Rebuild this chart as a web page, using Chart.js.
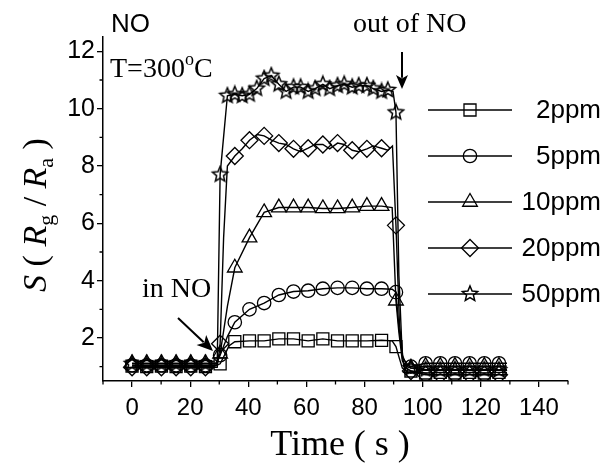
<!DOCTYPE html>
<html>
<head>
<meta charset="utf-8">
<script src="https://cdn.jsdelivr.net/npm/chart.js@4.4.1/dist/chart.umd.min.js"></script>
<style>
  html, body { margin: 0; padding: 0; background: #fff; }
  #chart { display: block; }
</style>
</head>
<body>
<canvas id="chart" width="605" height="466"></canvas>
<script>
// sampling times of the plotted symbols (s)
const markTime = [0, 5.05, 10.1, 15.15, 20.2, 25.25, 30.3, 35.35, 40.4, 45.45, 50.5, 55.55, 60.6,
  65.65, 70.7, 75.75, 80.8, 85.85, 90.8, 95.95, 101, 106.05, 111.1, 116.15, 121.2, 126.25];

// sensitivity at the symbol times
const s2 = [1.02, 1.0, 1.02, 1.0, 1.02, 1.0, 1.1, 1.87, 1.9, 1.9, 1.97, 1.97, 1.9, 1.97, 1.9, 1.9,
  1.9, 1.92, 1.7, 0.85, 0.78, 0.8, 0.78, 0.8, 0.78, 0.8];
const s5 = [1.05, 1.05, 1.05, 1.05, 1.05, 1.05, 1.4, 2.55, 3.0, 3.22, 3.5, 3.62, 3.65, 3.72, 3.75,
  3.75, 3.72, 3.72, 3.6, 1.0, 1.12, 1.12, 1.12, 1.12, 1.12, 1.12];
const s10 = [1.12, 1.12, 1.12, 1.12, 1.12, 1.12, 1.45, 4.45, 5.5, 6.38, 6.55, 6.55, 6.55, 6.52, 6.52,
  6.55, 6.6, 6.6, 3.3, 0.95, 1.02, 1.02, 1.02, 1.02, 1.02, 1.02];
const s20 = [0.98, 0.98, 0.98, 0.98, 0.98, 0.98, 1.8, 8.35, 8.9, 9.05, 8.8, 8.6, 8.62, 8.75, 8.8,
  8.55, 8.6, 8.62, 5.93, 0.85, 0.72, 0.72, 0.72, 0.72, 0.72, 0.72];
const s50 = [1.1, 1.1, 1.1, 1.1, 1.1, 1.1, 7.7, 10.5, 10.5, 11.05, 10.85, 10.75, 10.6, 10.85, 10.8,
  10.75, 10.8, 10.6, 9.87, 0.95, 0.9, 0.88, 0.9, 0.88, 0.9, 0.88];

// extra readings between symbols (line only): [time, S]
const e2 = [[28.5, 1.02], [32.3, 1.5], [33.3, 1.72], [89.5, 1.9], [91.8, 1.35], [93, 0.95], [94.5, 0.85], [129, 0.8]];
const e5 = [[28.8, 1.05], [32.8, 2.05], [89.5, 3.7], [91.8, 2.4], [93, 1.4], [94.5, 1.05], [129, 1.12]];
const e10 = [[28.8, 1.12], [32.8, 3.1], [89.5, 6.55], [91.8, 2.2], [93, 1.2], [94.5, 1.0], [129, 1.02]];
const e20 = [[29.3, 0.98], [31.5, 5.5], [32.8, 8.0], [37.9, 8.6], [43, 9.1], [48, 8.9], [53, 8.75],
  [58, 8.5], [63, 8.75], [68, 8.6], [73, 8.75], [78, 8.5], [83, 8.7], [88, 8.55], [89.6, 8.7],
  [92, 2.5], [93.5, 1.0], [129, 0.72]];
const e50 = [[29.3, 1.1], [89.8, 10.6], [91.8, 4.2], [93, 1.3], [129, 0.9]];
// the 50 ppm curve has symbols twice as dense on the plateau
const k50 = [[32.8, 10.45], [37.9, 10.45], [42.9, 10.7], [47.9, 11.15], [53, 10.6], [58, 10.75],
  [63, 10.7], [68, 10.7], [73, 10.85], [78, 10.8], [83, 10.7], [88, 10.65]];

const labels = ["2ppm", "5ppm", "10ppm", "20ppm", "50ppm"];
const xTicks = [0, 20, 40, 60, 80, 100, 120, 140];
const yTicks = [2, 4, 6, 8, 10, 12];
const xMinor = [-10, 10, 30, 50, 70, 90, 110, 130, 150];
const yMinor = [1, 3, 5, 7, 9, 11];

const SANS = '"Liberation Sans", Arial, sans-serif';
const SERIF = '"Liberation Serif", "Times New Roman", serif';

function makeStar(r) {
  const c = document.createElement("canvas");
  const s = Math.ceil(r * 2 + 4);
  c.width = c.height = s;
  const g = c.getContext("2d");
  g.strokeStyle = "#000";
  g.lineWidth = 1.5;
  g.lineJoin = "miter";
  g.beginPath();
  for (let i = 0; i < 10; i++) {
    const a = -Math.PI / 2 + i * Math.PI / 5;
    const rr = i % 2 ? r * 0.45 : r;
    g.lineTo(s / 2 + rr * Math.cos(a), s / 2 + rr * Math.sin(a));
  }
  g.closePath();
  g.stroke();
  return c;
}
const starImg = makeStar(8);

const styles = [
  { pointStyle: "rect", radius: 8.5 },
  { pointStyle: "circle", radius: 6.7 },
  { pointStyle: "triangle", radius: 8.5 },
  { pointStyle: "rectRot", radius: 8.5 },
  { pointStyle: starImg, radius: 8 }
];

function buildPoints(vals, extra, marked) {
  const pts = markTime.map((t, i) => ({ x: t, y: vals[i], m: true }));
  extra.forEach(([x, y]) => pts.push({ x, y, m: false }));
  (marked || []).forEach(([x, y]) => pts.push({ x, y, m: true }));
  return pts.sort((a, b) => a.x - b.x);
}

const series = [
  buildPoints(s2, e2),
  buildPoints(s5, e5),
  buildPoints(s10, e10),
  buildPoints(s20, e20),
  buildPoints(s50, e50, k50)
];

const datasets = series.map((pts, i) => ({
  label: labels[i],
  data: pts,
  borderColor: "#000",
  borderWidth: 1.4,
  tension: 0,
  pointStyle: styles[i].pointStyle,
  pointRadius: ctx => (ctx.raw && ctx.raw.m ? styles[i].radius : 0),
  pointHoverRadius: ctx => (ctx.raw && ctx.raw.m ? styles[i].radius : 0),
  pointBorderColor: "#000",
  pointBackgroundColor: "rgba(0,0,0,0)",
  pointBorderWidth: 1.3
}));

function arrow(ctx, x1, y1, x2, y2, head, half) {
  const a = Math.atan2(y2 - y1, x2 - x1);
  ctx.beginPath();
  ctx.moveTo(x1, y1);
  ctx.lineTo(x2 - Math.cos(a) * head * 0.8, y2 - Math.sin(a) * head * 0.8);
  ctx.stroke();
  ctx.beginPath();
  ctx.moveTo(x2, y2);
  ctx.lineTo(x2 - Math.cos(a) * head - Math.sin(a) * half, y2 - Math.sin(a) * head + Math.cos(a) * half);
  ctx.lineTo(x2 - Math.cos(a) * head * 0.75, y2 - Math.sin(a) * head * 0.75);
  ctx.lineTo(x2 - Math.cos(a) * head + Math.sin(a) * half, y2 - Math.sin(a) * head - Math.cos(a) * half);
  ctx.closePath();
  ctx.fill();
}

function drawPieces(ctx, pieces, x, y, align) {
  let w = 0;
  pieces.forEach(p => { ctx.font = p.font; w += ctx.measureText(p.text).width; });
  let cx = align === "center" ? x - w / 2 : x;
  pieces.forEach(p => {
    ctx.font = p.font;
    ctx.fillText(p.text, cx, y + (p.dy || 0));
    cx += ctx.measureText(p.text).width;
  });
}

const decorations = {
  id: "decorations",
  afterDraw(chart) {
    const ctx = chart.ctx;
    const xs = chart.scales.x, ys = chart.scales.y;
    ctx.save();
    ctx.fillStyle = "#000";
    ctx.strokeStyle = "#000";

    // minor ticks
    ctx.lineWidth = 1.3;
    ctx.beginPath();
    xMinor.forEach(v => {
      const px = xs.getPixelForValue(v);
      ctx.moveTo(px, ys.bottom);
      ctx.lineTo(px, ys.bottom + 3.5);
    });
    yMinor.forEach(v => {
      const py = ys.getPixelForValue(v);
      ctx.moveTo(xs.left, py);
      ctx.lineTo(xs.left - 3.5, py);
    });
    ctx.stroke();

    // legend
    const rowsY = [110, 156, 202, 248, 294];
    ctx.textBaseline = "middle";
    ctx.textAlign = "right";
    rowsY.forEach((ry, i) => {
      ctx.lineWidth = 1.4;
      ctx.beginPath();
      ctx.moveTo(428, ry);
      ctx.lineTo(512, ry);
      ctx.stroke();
      if (Chart.helpers && Chart.helpers.drawPoint) {
        ctx.lineWidth = 1.3;
        ctx.fillStyle = "rgba(0,0,0,0)";
        Chart.helpers.drawPoint(ctx, { pointStyle: styles[i].pointStyle, radius: styles[i].radius, borderWidth: 1.3, rotation: 0 }, 470, ry);
      }
      ctx.fillStyle = "#000";
      ctx.font = "26px " + SANS;
      ctx.fillText(labels[i], 601, ry + 1);
    });

    // annotations
    ctx.textAlign = "left";
    ctx.textBaseline = "alphabetic";
    ctx.font = "26px " + SANS;
    ctx.fillText("NO", 111, 32);
    drawPieces(ctx, [
      { text: "T=300", font: "28px " + SERIF },
      { text: "o", font: "18px " + SERIF, dy: -12 },
      { text: "C", font: "28px " + SERIF }
    ], 110, 77, "left");
    ctx.font = "28px " + SERIF;
    ctx.fillText("out of NO", 353, 32);
    ctx.fillText("in NO", 142, 297);

    ctx.lineWidth = 2;
    arrow(ctx, 402, 52, 402, 89, 14, 6);
    arrow(ctx, 178, 318, 213, 351, 16, 7);

    // axis titles
    drawPieces(ctx, [{ text: "Time ( s )", font: "36px " + SERIF }], 340, 455, "center");

    ctx.translate(46, 215);
    ctx.rotate(-Math.PI / 2);
    drawPieces(ctx, [
      { text: "S", font: "italic 34px " + SERIF },
      { text: " ( ", font: "34px " + SERIF },
      { text: "R", font: "italic 34px " + SERIF },
      { text: "g", font: "22px " + SERIF, dy: 7 },
      { text: " / ", font: "34px " + SERIF },
      { text: "R", font: "italic 34px " + SERIF },
      { text: "a", font: "22px " + SERIF, dy: 7 },
      { text: " )", font: "34px " + SERIF }
    ], 0, 0, "center");
    ctx.restore();
  }
};

new Chart(document.getElementById("chart"), {
  type: "line",
  data: { datasets },
  options: {
    responsive: false,
    animation: false,
    layout: { padding: { top: 37, right: 37, left: 0, bottom: 0 } },
    plugins: { legend: { display: false }, tooltip: { enabled: false } },
    scales: {
      x: {
        type: "linear",
        min: -10,
        max: 150,
        afterBuildTicks: s => { s.ticks = xTicks.map(v => ({ value: v })); },
        afterFit: s => { s.height = 85; },
        grid: { display: true, drawOnChartArea: false, tickLength: 6, color: "#000", lineWidth: 1.3 },
        border: { display: true, color: "#000", width: 1.5 },
        ticks: { color: "#000", font: { family: SANS, size: 24 }, padding: 7, maxRotation: 0, autoSkip: false }
      },
      y: {
        min: 0.5,
        max: 12.5,
        afterBuildTicks: s => { s.ticks = yTicks.map(v => ({ value: v })); },
        afterFit: s => { s.width = 103; },
        grid: { display: true, drawOnChartArea: false, tickLength: 6, color: "#000", lineWidth: 1.3 },
        border: { display: true, color: "#000", width: 1.5 },
        ticks: { color: "#000", font: { family: SANS, size: 25 }, padding: 2 }
      }
    }
  },
  plugins: [decorations]
});
</script>
</body>
</html>
